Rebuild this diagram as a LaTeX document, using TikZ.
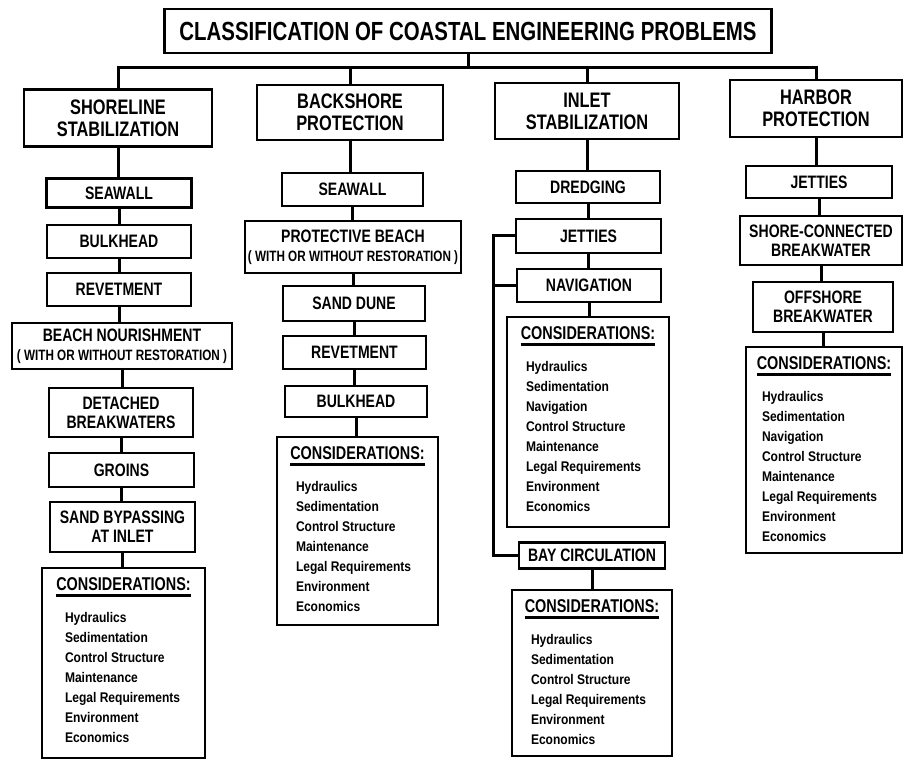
\documentclass[tikz,border=0pt]{standalone}
\usepackage{fontspec}
\setmainfont{Liberation Sans}
\newfontfamily\capfont{Liberation Sans}[FakeStretch=0.78]
\newfontfamily\listfont{Liberation Sans}[FakeStretch=0.86]

\begin{document}
\begin{tikzpicture}[
    x=1pt, y=-1pt,
    box/.style={draw, line width=2.4pt, inner sep=0pt, align=center},
    titlebox/.style={box, font=\capfont\bfseries\fontsize{26.2}{28}\selectfont},
    groupbox/.style={box, font=\capfont\bfseries\fontsize{21}{22}\selectfont},
    itembox/.style={box, font=\capfont\bfseries\fontsize{18}{19}\selectfont},
    consbox/.style={draw, line width=2.4pt, inner sep=0pt},
    conshead/.style={inner sep=0pt, font=\capfont\bfseries\fontsize{18.5}{20}\selectfont},
    conslist/.style={inner sep=0pt, anchor=north west, align=left,
        font=\listfont\bfseries\fontsize{14}{20}\selectfont},
    underline/.style={line width=3.5pt},
    link/.style={line width=3pt}
]
    \useasboundingbox (0,0) rectangle (904,759);

    % top of the tree
    \node[titlebox, minimum width=607, minimum height=44] (title) at (468,31)
        {CLASSIFICATION OF COASTAL ENGINEERING PROBLEMS};
    \coordinate (bus) at (468,68);

    \node[groupbox, minimum width=188, minimum height=57] (shore) at (118,118)
        {SHORELINE\\STABILIZATION};
    \node[groupbox, minimum width=186, minimum height=55] (back) at (350,112.5)
        {BACKSHORE\\PROTECTION};
    \node[groupbox, minimum width=184, minimum height=56] (inlet) at (587,111)
        {INLET\\STABILIZATION};
    \node[groupbox, minimum width=172, minimum height=57] (harbor) at (816,108.5)
        {HARBOR\\PROTECTION};

    \draw[link] (title.south) -- (title.south |- bus);
    \draw[link] (shore.north) -- (shore.north |- bus) -- (harbor.north |- bus)
        -- (harbor.north);
    \draw[link] (back.north) -- (back.north |- bus);
    \draw[link] (inlet.north) -- (inlet.north |- bus);

    % shoreline stabilization
    \node[itembox, minimum width=145, minimum height=29] (sea1) at (119,193) {SEAWALL};
    \node[itembox, minimum width=144, minimum height=33] (bulk1) at (119,241.5) {BULKHEAD};
    \node[itembox, minimum width=144, minimum height=33] (rev1) at (119,289.5) {REVETMENT};
    \node[itembox, minimum width=220, minimum height=46] (nour1) at (122,346)
        {BEACH NOURISHMENT\\{\fontsize{15}{16}\selectfont ( WITH OR WITHOUT RESTORATION )}};
    \node[itembox, minimum width=144, minimum height=49] (det1) at (121,412.5)
        {DETACHED\\BREAKWATERS};
    \node[itembox, minimum width=145, minimum height=34] (groin1) at (121.5,470) {GROINS};
    \node[itembox, minimum width=145, minimum height=50] (bypass1) at (122.5,527)
        {SAND BYPASSING\\AT INLET};

    \node[consbox, minimum width=163, minimum height=190] (cons1) at (123.5,663) {};
    \node[conshead] (head1) at ([yshift=-17]cons1.north) {CONSIDERATIONS:};
    \draw[underline] ([yshift=-5.5]head1.base west) -- ([yshift=-5.5]head1.base east);
    \node[conslist] (list1) at ([xshift=24,yshift=-45.5]cons1.north west)
        {Hydraulics\\Sedimentation\\Control Structure\\Maintenance\\
         Legal Requirements\\Environment\\Economics};

    % backshore protection
    \node[itembox, minimum width=141, minimum height=33] (sea2) at (352.5,189.5) {SEAWALL};
    \node[itembox, minimum width=216, minimum height=52] (prot2) at (353,247)
        {PROTECTIVE BEACH\\{\fontsize{15}{16}\selectfont ( WITH OR WITHOUT RESTORATION )}};
    \node[itembox, minimum width=142, minimum height=35] (dune2) at (354,303.5) {SAND DUNE};
    \node[itembox, minimum width=143, minimum height=33] (rev2) at (354.5,352.5) {REVETMENT};
    \node[itembox, minimum width=142, minimum height=31] (bulk2) at (356,401.5) {BULKHEAD};

    \node[consbox, minimum width=161, minimum height=188] (cons2) at (357.5,531) {};
    \node[conshead] (head2) at ([yshift=-17]cons2.north) {CONSIDERATIONS:};
    \draw[underline] ([yshift=-5.5]head2.base west) -- ([yshift=-5.5]head2.base east);
    \node[conslist] (list2) at ([xshift=20,yshift=-45.5]cons2.north west)
        {Hydraulics\\Sedimentation\\Control Structure\\Maintenance\\
         Legal Requirements\\Environment\\Economics};

    % inlet stabilization
    \node[itembox, minimum width=144, minimum height=32] (dredge3) at (588,187) {DREDGING};
    \node[itembox, minimum width=145, minimum height=34] (jet3) at (588.5,236) {JETTIES};
    \node[itembox, minimum width=144, minimum height=33] (nav3) at (589,285.5) {NAVIGATION};

    \node[consbox, minimum width=162, minimum height=210] (cons3) at (588,422) {};
    \node[conshead] (head3) at ([yshift=-17]cons3.north) {CONSIDERATIONS:};
    \draw[underline] ([yshift=-5.5]head3.base west) -- ([yshift=-5.5]head3.base east);
    \node[conslist] (list3) at ([xshift=20,yshift=-45.5]cons3.north west)
        {Hydraulics\\Sedimentation\\Navigation\\Control Structure\\Maintenance\\
         Legal Requirements\\Environment\\Economics};

    \node[itembox, minimum width=146, minimum height=26] (bay3) at (592,555.5) {BAY CIRCULATION};

    \node[consbox, minimum width=160, minimum height=166] (cons3b) at (592,673) {};
    \node[conshead] (head3b) at ([yshift=-17]cons3b.north) {CONSIDERATIONS:};
    \draw[underline] ([yshift=-5.5]head3b.base west) -- ([yshift=-5.5]head3b.base east);
    \node[conslist] (list3b) at ([xshift=20,yshift=-45.5]cons3b.north west)
        {Hydraulics\\Sedimentation\\Control Structure\\
         Legal Requirements\\Environment\\Economics};

    \coordinate (rail) at (493,400);
    \draw[link] (jet3.west) -- (jet3.west -| rail) |- (bay3.west);
    \draw[link] (nav3.west) -- (nav3.west -| rail);

    % harbor protection
    \node[itembox, minimum width=146, minimum height=32] (jet4) at (819,182) {JETTIES};
    \node[itembox, minimum width=162, minimum height=49] (shc4) at (821,240.5)
        {SHORE-CONNECTED\\BREAKWATER};
    \node[itembox, minimum width=140, minimum height=50] (off4) at (823,307)
        {OFFSHORE\\BREAKWATER};

    \node[consbox, minimum width=156, minimum height=206] (cons4) at (824,450) {};
    \node[conshead] (head4) at ([yshift=-17]cons4.north) {CONSIDERATIONS:};
    \draw[underline] ([yshift=-5.5]head4.base west) -- ([yshift=-5.5]head4.base east);
    \node[conslist] (list4) at ([xshift=17,yshift=-45.5]cons4.north west)
        {Hydraulics\\Sedimentation\\Navigation\\Control Structure\\Maintenance\\
         Legal Requirements\\Environment\\Economics};

    % vertical links down each column
    \foreach \a/\b in {shore/sea1, sea1/bulk1, bulk1/rev1, rev1/nour1, nour1/det1,
        det1/groin1, groin1/bypass1, bypass1/cons1,
        back/sea2, sea2/prot2, prot2/dune2, dune2/rev2, rev2/bulk2, bulk2/cons2,
        inlet/dredge3, dredge3/jet3, jet3/nav3, nav3/cons3, bay3/cons3b,
        harbor/jet4, jet4/shc4, shc4/off4, off4/cons4}
        \draw[link] (\a.south) -- (\a.south |- \b.north);
\end{tikzpicture}
\end{document}
